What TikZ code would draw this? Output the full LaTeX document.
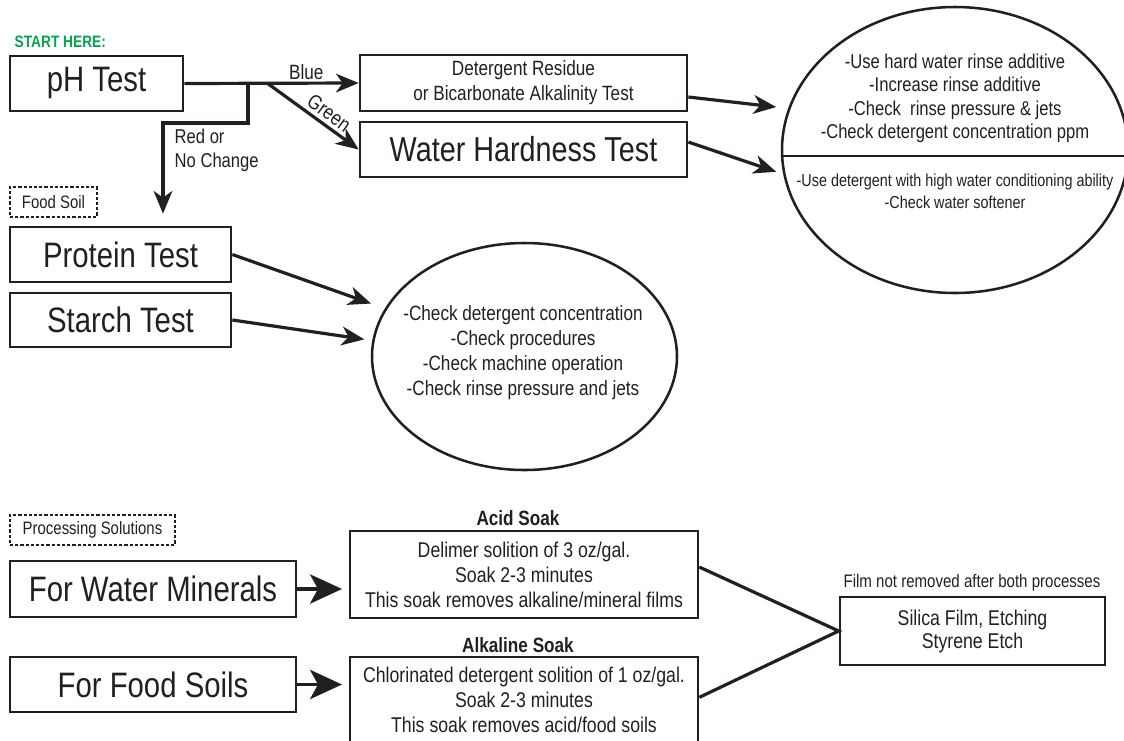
\documentclass[tikz,border=0pt]{standalone}
\usepackage{fontspec}
\setmainfont[FakeStretch=0.83]{Liberation Sans}
\usetikzlibrary{arrows.meta,shapes.geometric}
\definecolor{ink}{HTML}{231F20}
\definecolor{startgreen}{HTML}{00A651}

\begin{document}
\begin{tikzpicture}[x=0.75pt,y=-0.75pt,color=ink,text=ink,
	box/.style={draw,line width=2pt,inner sep=0pt,align=center},
	tag/.style={draw,dash pattern=on 2.4pt off 1.5pt,line width=1.5pt,inner sep=0pt,font=\fontsize{13.5}{16}\selectfont},
	big/.style={font=\fontsize{26.5}{30}\selectfont},
	small/.style={font=\fontsize{15.5}{18.75}\selectfont,align=center},
	oval/.style={draw,ellipse,line width=1.9pt,inner sep=0pt},
	arr/.style={line width=2.4pt,-{Stealth[length=17pt,width=14pt,inset=5pt]}},
	fat/.style={line width=2.4pt,-{Stealth[length=24pt,width=22pt,inset=6pt]}}]
	\useasboundingbox (0,0) rectangle (1124,740);
	
	% tests
	\node[anchor=west,text=startgreen,font=\bfseries\fontsize{12.4}{14}\selectfont] (start) at (10,42) {START HERE:};
	\node[box,big,minimum width=129.75pt,minimum height=41.25pt] (ph) at (96.5,83.5) {pH Test};
	\node[box,small,minimum width=245.25pt,minimum height=42pt] (det) at (523.5,83) {Detergent Residue\\or Bicarbonate Alkalinity Test};
	\node[box,font=\fontsize{26}{30}\selectfont,minimum width=245.25pt,minimum height=41.25pt] (wht) at (523.5,149.5) {Water Hardness Test};
	\node[tag,minimum width=65.25pt,minimum height=22.5pt] (food) at (53.5,202) {Food Soil};
	\node[box,big,minimum width=165.75pt,minimum height=41.25pt] (prot) at (120.5,254.5) {Protein Test};
	\node[box,big,minimum width=165.75pt,minimum height=40.5pt] (starch) at (120.5,320) {Starch Test};
	
	% results
	\node[oval,minimum width=259.5pt,minimum height=214.5pt] (hard) at (955,150) {};
	\node[font=\fontsize{15}{17.6}\selectfont,align=center] (hardtop) at (955,98.5) {-Use hard water rinse additive\\-Increase rinse additive\\-Check\ \ rinse pressure \& jets\\-Check detergent concentration ppm};
	\node[font=\fontsize{13}{16.5}\selectfont,align=center] (hardbot) at (955,191) {-Use detergent with high water conditioning ability\\-Check water softener};
	\draw[line width=1.9pt] (hard.182) -- (hard.-2);
	\node[oval,minimum width=228.75pt,minimum height=170.25pt] (soil) at (524.5,356.5) {};
	\node[small] (soiltxt) at (523,352.5) {-Check detergent concentration\\-Check procedures\\-Check machine operation\\-Check rinse pressure and jets};
	
	\coordinate (rfork) at (248,83);
	\coordinate (gfork) at (267,83);
	\coordinate (rbend) at (163,123);
	\draw[arr] (ph.east) -- (det.west) node[pos=0.7,above,small,inner sep=1.5pt] {Blue};
	\draw[arr] (gfork) -- (wht.west) node[pos=0.6,sloped,above,small,inner sep=2.5pt] {Green};
	\draw[arr,shorten >=9pt] (rfork) |- (rbend) -- (rbend |- prot.north);
	\node[small,anchor=west,align=left,font=\fontsize{15}{18}\selectfont] (red) at (170,150) {Red or\\No Change};
	\draw[arr,shorten >=9pt] ([yshift=-10.5pt]det.east) -- (hard.166);
	\draw[arr,shorten >=5.5pt] ([yshift=5.6pt]wht.east) -- (hard.188);
	\draw[arr,shorten >=11pt] (prot.east) -- (soil.161);
	\draw[arr,shorten >=6pt] (starch.east) -- (soil.174);
	
	% processing solutions
	\node[tag,minimum width=123.75pt,minimum height=22.5pt] (proc) at (92.5,530) {Processing Solutions};
	\node[box,big,minimum width=214.5pt,minimum height=42pt] (fwm) at (153,589) {For Water Minerals};
	\node[box,big,minimum width=214.5pt,minimum height=41.25pt] (ffs) at (153,684.5) {For Food Soils};
	\node[box,font=\fontsize{16}{18.75}\selectfont,minimum width=261pt,minimum height=65.25pt] (acid) at (524,574.5) {Delimer solition of 3 oz/gal.\\Soak 2-3 minutes\\This soak removes alkaline/mineral films};
	\node[box,font=\fontsize{16}{18.75}\selectfont,minimum width=261pt,minimum height=64.5pt] (alk) at (524,700) {Chlorinated detergent solition of 1 oz/gal.\\Soak 2-3 minutes\\This soak removes acid/food soils};
	\node[font=\bfseries\fontsize{15.5}{18}\selectfont] (acidlab) at (518,518) {Acid Soak};
	\node[font=\bfseries\fontsize{15.5}{18}\selectfont] (alklab) at (518,645) {Alkaline Soak};
	\node[box,font=\fontsize{16}{17.25}\selectfont,minimum width=198.75pt,minimum height=51pt] (sil) at (972.5,631) {Silica Film, Etching\\Styrene Etch};
	\node[font=\fontsize{13.6}{16}\selectfont] (fillab) at (972,583) {Film not removed after both processes};
	
	\draw[fat,shorten >=5pt] (fwm.east) -- (fwm.east -| acid.west);
	\draw[fat,shorten >=5pt] (ffs.east) -- (ffs.east -| alk.west);
	\draw[line width=2.4pt] ([yshift=5.6pt]acid.east) -- (sil.west) -- ([yshift=2pt]alk.east);
\end{tikzpicture}
\end{document}
